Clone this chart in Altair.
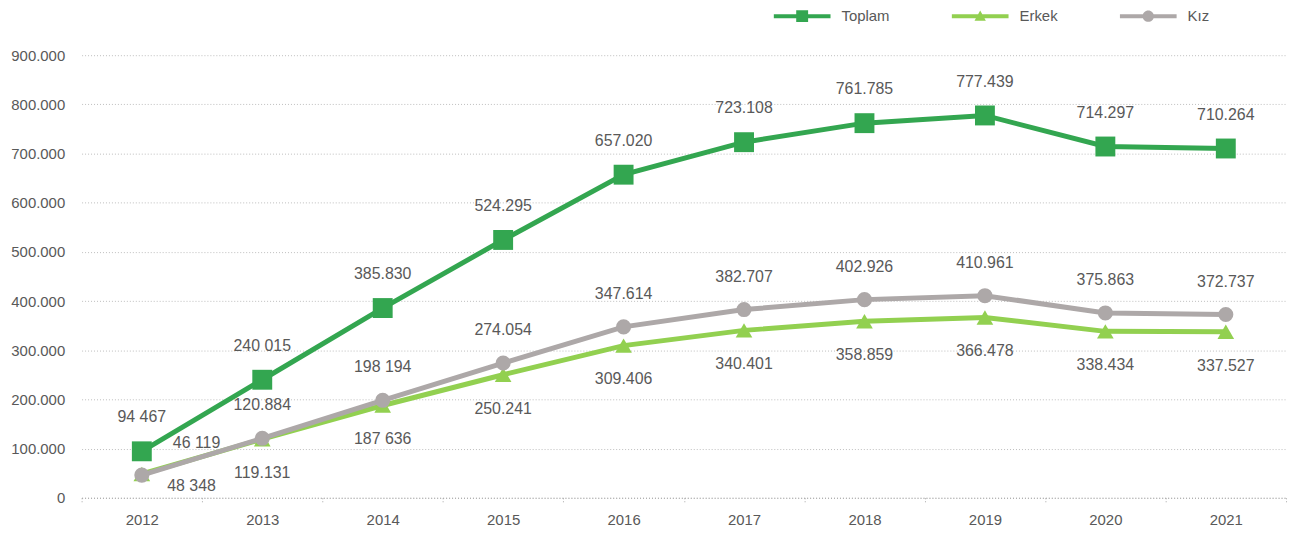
import altair as alt
import pandas as pd

years = ["2012", "2013", "2014", "2015", "2016", "2017", "2018", "2019", "2020", "2021"]
series_names = ["Toplam", "Erkek", "Kız"]
series_colors = ["#33A650", "#92D050", "#ADA8A8"]

toplam = [94467, 240015, 385830, 524295, 657020, 723108, 761785, 777439, 714297, 710264]
erkek = [48348, 119131, 187636, 250241, 309406, 340401, 358859, 366478, 338434, 337527]
kiz = [46119, 120884, 198194, 274054, 347614, 382707, 402926, 410961, 375863, 372737]

toplam_labels = ["94 467", "240 015", "385.830", "524.295", "657.020", "723.108", "761.785", "777.439", "714.297", "710.264"]
erkek_labels = ["48 348", "119.131", "187 636", "250.241", "309.406", "340.401", "358.859", "366.478", "338.434", "337.527"]
kiz_labels = ["46 119", "120.884", "198 194", "274.054", "347.614", "382.707", "402.926", "410.961", "375.863", "372.737"]

rows = []
for name, vals, labs in [("Erkek", erkek, erkek_labels), ("Kız", kiz, kiz_labels), ("Toplam", toplam, toplam_labels)]:
    for y, v, l in zip(years, vals, labs):
        rows.append({"year": y, "series": name, "value": v, "label": l})
df = pd.DataFrame(rows)

FONT = "Liberation Sans"
TXT = "#595959"

# legend symbols: line with marker (unit box -1..1)
legend_paths = [
    "M-1,-0.07H1V0.07H-1Z M-0.21,-0.21H0.21V0.21H-0.21Z",
    "M-1,-0.07H1V0.07H-1Z M0,-0.2L0.2,0.16H-0.2Z",
    "M-1,-0.07H1V0.07H-1Z M0.2,0A0.2,0.2 0 1,1 -0.2,0A0.2,0.2 0 1,1 0.2,0Z",
]

x_enc = alt.X(
    "year:N",
    sort=years,
    title=None,
    scale=alt.Scale(type="band", paddingInner=0, paddingOuter=0),
    axis=alt.Axis(
        labelFontSize=15,
        labelColor=TXT,
        labelFont=FONT,
        labelPadding=10,
        labelAngle=0,
        tickBand="extent",
        tickSize=5,
        tickDash=[1, 2],
        tickColor="#A6A6A6",
        domainDash=[1, 2],
        domainColor="#A6A6A6",
        grid=False,
    ),
)
y_enc = alt.Y(
    "value:Q",
    title=None,
    scale=alt.Scale(domain=[0, 900000], nice=False),
    axis=alt.Axis(
        values=[0, 100000, 200000, 300000, 400000, 500000, 600000, 700000, 800000, 900000],
        labelExpr="datum.value == 0 ? '0' : format(datum.value / 1000, 'd') + '.000'",
        labelFontSize=15,
        labelColor=TXT,
        labelFont=FONT,
        labelPadding=17,
        ticks=False,
        domain=False,
        grid=True,
        gridDash=[1, 2],
        gridColor="#BDBDBD",
        gridWidth=1,
    ),
)

legend_def = alt.Legend(
    orient="none",
    legendX=696,
    legendY=-68,
    direction="horizontal",
    title=None,
    symbolSize=3249,
    symbolStrokeWidth=0,
    labelFontSize=15,
    labelFont=FONT,
    labelColor=TXT,
    labelOffset=11,
    columnPadding=62,
)

color_enc = alt.Color(
    "series:N",
    scale=alt.Scale(domain=series_names, range=series_colors),
    legend=legend_def,
)

base = alt.Chart(df)

lines = base.mark_line(strokeWidth=5).encode(x=x_enc, y=y_enc, color=color_enc)

carrier = base.mark_point(filled=True, size=1, opacity=1).encode(
    x=x_enc,
    y=y_enc,
    color=color_enc,
    shape=alt.Shape(
        "series:N",
        scale=alt.Scale(domain=series_names, range=legend_paths),
        legend=legend_def,
    ),
)

pt_erkek = base.transform_filter(alt.datum.series == "Erkek").mark_point(
    shape="triangle-up", size=280, filled=True, opacity=1
).encode(x=x_enc, y=y_enc, color=color_enc)
pt_kiz = base.transform_filter(alt.datum.series == "Kız").mark_point(
    shape="circle", size=230, filled=True, opacity=1
).encode(x=x_enc, y=y_enc, color=color_enc)
pt_toplam = base.transform_filter(alt.datum.series == "Toplam").mark_point(
    shape="square", size=400, filled=True, opacity=1
).encode(x=x_enc, y=y_enc, color=color_enc)


def labels(name, dy, dx=0, first=False):
    cond = (alt.datum.series == name) & (
        (alt.datum.year == years[0]) if first else (alt.datum.year != years[0])
    )
    return base.transform_filter(cond).mark_text(
        dy=dy, dx=dx, fontSize=16, font=FONT, color=TXT
    ).encode(x=x_enc, y=y_enc, text="label:N")


chart = alt.layer(
    lines,
    carrier,
    pt_erkek,
    pt_kiz,
    pt_toplam,
    labels("Toplam", -34),
    labels("Toplam", -34, first=True),
    labels("Kız", -33),
    labels("Kız", -32, dx=55, first=True),
    labels("Erkek", 34),
    labels("Erkek", 12, dx=50, first=True),
).properties(
    width=1211,
    height=445,
    padding={"left": 74, "top": 46, "right": 4, "bottom": 40},
    autosize=alt.AutoSizeParams(type="none"),
).configure_view(stroke=None)

chart.save("out.html", embed_options={"renderer": "svg", "actions": False})
